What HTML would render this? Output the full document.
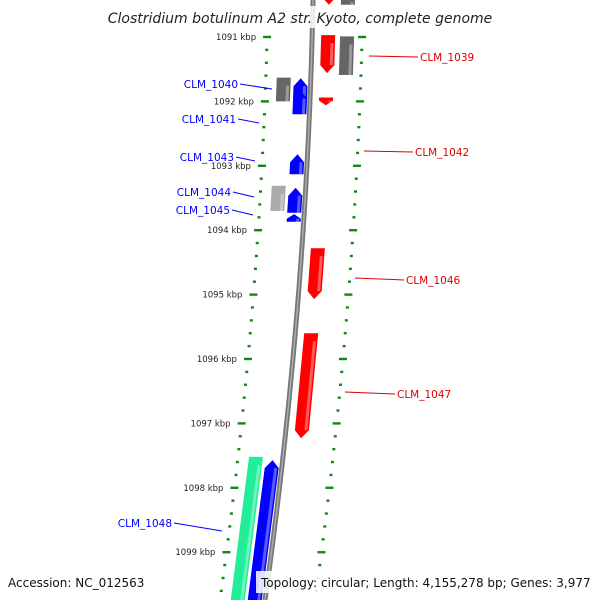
<!DOCTYPE html>
<html><head><meta charset="utf-8"><style>
body{margin:0;background:#fff;width:600px;height:600px;overflow:hidden;font-family:"Liberation Sans","DejaVu Sans",sans-serif}
</style></head><body>
<svg id="map" width="600" height="600" viewBox="0 0 600 600" xmlns="http://www.w3.org/2000/svg">
<rect width="600" height="600" fill="#fff"/>
<g id="ticks"></g><g id="feats"></g><g id="labels"></g>
<rect x="105" y="6" width="390" height="22" fill="#fff" opacity="0.85"/>
<text x="300" y="23" text-anchor="middle" font-size="14" font-style="italic" fill="#222" font-family="DejaVu Sans, sans-serif">Clostridium botulinum A2 str. Kyoto, complete genome</text>
<rect x="4" y="571" width="150" height="22" fill="#fff" opacity="0.85"/>
<text x="8" y="587" font-size="12" fill="#111" font-family="DejaVu Sans, sans-serif">Accession: NC_012563</text>
<rect x="256" y="571" width="340" height="22" fill="#fff" opacity="0.85"/>
<text x="261" y="587" font-size="12" fill="#111" font-family="DejaVu Sans, sans-serif">Topology: circular; Length: 4,155,278 bp; Genes: 3,977</text>
</svg>
<script>
const NS="http://www.w3.org/2000/svg";
const kbpStart=1091, pxPerKbp=64.4, y0=37;
const tickKbp=[1091,1092,1093,1094,1095,1096,1097,1098,1099];
const featNames=["top-red","top-gray","CLM_1039","gray-1039","gray-1040","CLM_1040","CLM_1041","CLM_1042","CLM_1043","gray-1044","CLM_1044","CLM_1045","CLM_1046","CLM_1047","green-1048","CLM_1048"];
const featStart=[1090.3,1090.4,1090.97,1090.99,1091.63,1091.64,1091.83,1091.66+0.28,1092.82,1093.31,1093.34,1093.75,1094.28,1095.60,1097.52,1097.57];
const featEnd=[1090.5,1090.5,1091.56,1091.59,1092.0,1092.02,1092.2,1092.06,1093.13,1093.7,1093.73,1093.87,1095.07,1097.23,1100.0,1100.0];
const featTrack=["r1","r2","r1","r2","l2","l1","l1","r1","l1","l2","l1","l1","r1","r1","l2","l1"];
const featStrand=[1,0,1,0,0,-1,-1,1,-1,0,-1,-1,1,1,0,-1];
const featColor=["#f00","#666","#f00","#666","#666","#00f","#00f","#f00","#00f","#aaa","#00f","#00f","#f00","#f00","#2e9","#00f"];
const labelText=["CLM_1039","CLM_1040","CLM_1041","CLM_1042","CLM_1043","CLM_1044","CLM_1045","CLM_1046","CLM_1047","CLM_1048"];
const labelColor=["#d00","#00f","#00f","#d00","#00f","#00f","#00f","#d00","#d00","#00f"];
const labelTx=[420,238,236,415,234,231,230,406,397,172];
const labelTy=[61,88,123,156,161,196,214,284,398,527];
const labelLx=[369,272,259,364,255,254,253,355,345,222];
const labelLy=[56,89,123,151,161,197,215,278,392,531];
const trackOff={l1:[-17,-3],l2:[-34,-20],r1:[9,23],r2:[28,42]};
function yk(k){return y0+(k-kbpStart)*pxPerKbp}
function bx(y){return 313-0.02*y-0.0001*y*y}
function P(off,y){return (bx(y)+off).toFixed(1)+","+y.toFixed(1)}
const T=document.getElementById("ticks"),F=document.getElementById("feats"),L=document.getElementById("labels");
function mk(tag,attrs,parent){const e=document.createElementNS(NS,tag);for(const a in attrs)e.setAttribute(a,attrs[a]);parent.appendChild(e);return e}
let bpts=[];for(let y=-5;y<=605;y+=10)bpts.push(P(0,y));
let bb=mk("polyline",{points:bpts.join(" "),fill:"none",stroke:"#777","stroke-width":5},F);


let bb2=mk("polyline",{points:bpts.join(" "),fill:"none",stroke:"#aaa","stroke-width":1.5},F);


for(let k=1090.4;k<=1100.01;k+=0.2){
  const y=yk(k);if(y<30||y>600)continue;
  const major=Math.abs(k-Math.round(k))<0.01, mid=!major&&Math.abs(k*2-Math.round(k*2))<0.01;
  [[-45,0],[50,1]].forEach(([off,side])=>{
    const w=major?8:(mid?6:3);
    const r=mk("rect",{x:bx(y)+off-w/2,y:y-1.2,width:w,height:2.4,fill:"#118811"},T);
    
    
  });
}
tickKbp.forEach(k=>{
  const y=yk(k);
  const t=mk("text",{x:bx(y)-56,y:y+3,"text-anchor":"end","font-size":8.5,fill:"#222","font-family":"DejaVu Sans, sans-serif"},T);
  t.textContent=k+" kbp";
  
  
});
featStart.forEach((s,i)=>{
  const y1=yk(s),y2=yk(featEnd[i]);const [a,b]=trackOff[featTrack[i]];const h=Math.min(8,(y2-y1)*0.6);
  let pts;
  if(featStrand[i]===1)pts=[P(a,y1),P(b,y1),P(b,y2-h),P((a+b)/2,y2),P(a,y2-h)];
  else if(featStrand[i]===-1)pts=[P(a,y1+h),P((a+b)/2,y1),P(b,y1+h),P(b,y2),P(a,y2)];
  else pts=[P(a,y1),P(b,y1),P(b,y2),P(a,y2)];
  const g=mk("polygon",{points:pts.join(" "),fill:featColor[i]},F);
  
  
  const hl=mk("polyline",{points:[P(b-3,y1+h),P(b-3,y2-(featStrand[i]===1?h:0))].join(" "),stroke:"#fff","stroke-opacity":0.35,"stroke-width":3,fill:"none"},F);
  
  
});
labelText.forEach((t,i)=>{
  const right=labelColor[i]==="#d00";
  const ln=mk("line",{x1:right?labelTx[i]-2:labelTx[i]+2,y1:labelTy[i]-4,x2:labelLx[i],y2:labelLy[i],stroke:labelColor[i],"stroke-width":1},L);
  
  
  const tx=mk("text",{x:labelTx[i],y:labelTy[i],"text-anchor":right?"start":"end","font-size":10.5,fill:labelColor[i],"font-family":"DejaVu Sans, sans-serif"},L);
  tx.textContent=t;
  
  
});
</script>
</body></html>
